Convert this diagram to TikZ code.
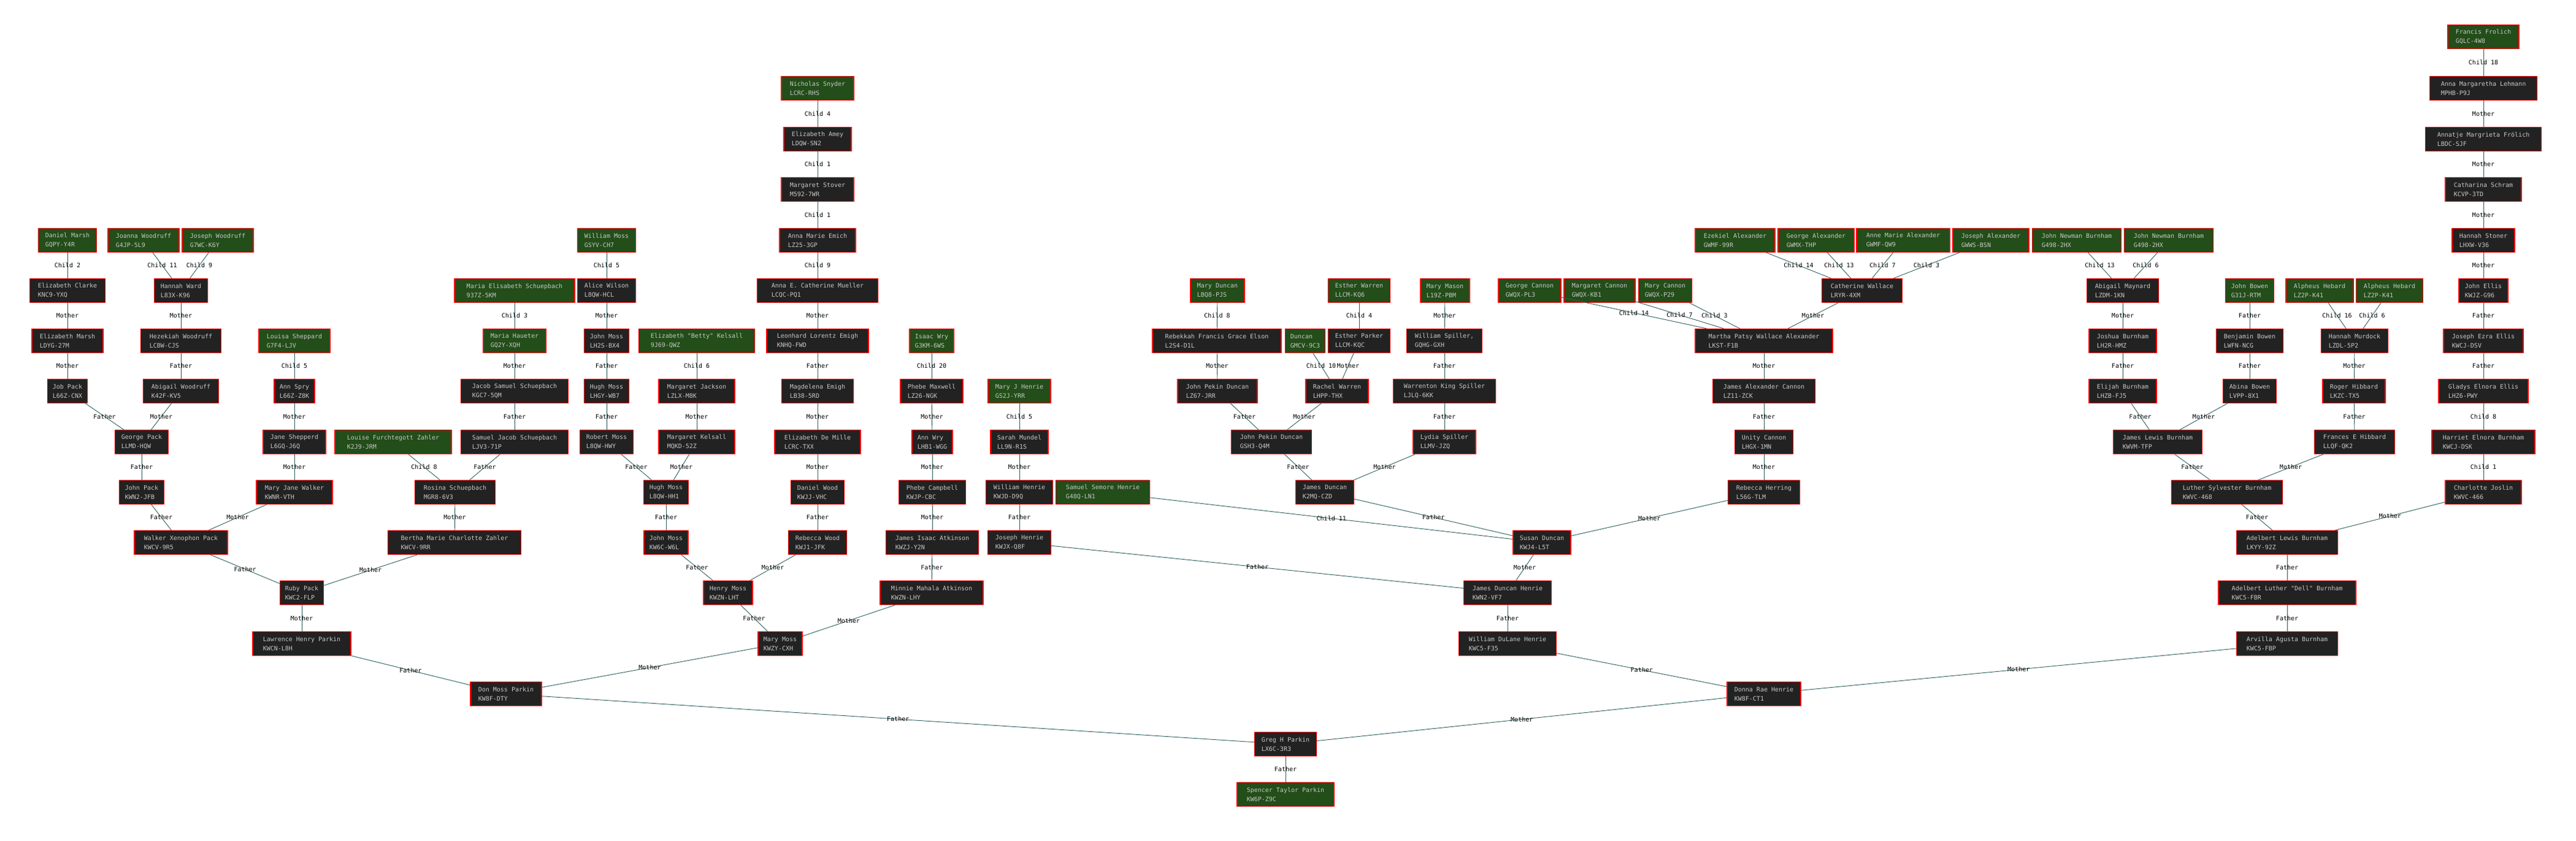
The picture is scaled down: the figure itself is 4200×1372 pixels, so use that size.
\documentclass[tikz,border=0pt]{standalone}
\usepackage{fontspec}
\setmonofont{DejaVu Sans Mono}
\usepackage{xcolor}
\usepackage{tikz}

\definecolor{boxgray}{HTML}{222222}
\definecolor{rootgreen}{HTML}{234D19}
\definecolor{namegray}{HTML}{C8C8C8}
\definecolor{linkteal}{HTML}{2F5F5F}

\begin{document}
\begin{tikzpicture}[
x=1pt, y=-1pt,
person/.style={draw=red, line width=1.2pt, fill=boxgray, text=namegray, align=left,
	minimum height=39pt, minimum width=#1, inner sep=0pt, font=\ttfamily\fontsize{10}{15}\selectfont},
rootbox/.style={person=#1, fill=rootgreen},
famlink/.style={draw=linkteal, line width=0.9pt},
reltag/.style={font=\ttfamily\fontsize{10}{12}\selectfont, text=black, inner sep=0pt}
]
\useasboundingbox (0,0) rectangle (4200,1372);

% generation rows, top to bottom
\node [rootbox=116] (frolich) at (4049,60) {Francis Frolich\\GQLC-4W8};

\node [rootbox=118] (snyder) at (1333,144) {Nicholas Snyder\\LCRC-RHS};
\node [person=175] (lehmann) at (4049,144) {Anna Margaretha Lehmann\\MPHB-P9J};

\node [person=110] (amey) at (1333,227) {Elizabeth Amey\\LDQW-SN2};
\node [person=189] (annatje) at (4049,227) {Annatje Margrieta Frölich\\LBDC-SJF};

\node [person=118] (stover) at (1333,309) {Margaret Stover\\M592-7WR};
\node [person=124] (schram) at (4049,309) {Catharina Schram\\KCVP-3TD};

\node [rootbox=95] (dmarsh) at (110,392) {Daniel Marsh\\GQPY-Y4R};
\node [rootbox=116] (joanna) at (234,392) {Joanna Woodruff\\G4JP-5L9};
\node [rootbox=116] (joseph) at (355,392) {Joseph Woodruff\\G7WC-K6Y};
\node [rootbox=95] (wmoss) at (989,392) {William Moss\\GSYV-CH7};
\node [person=124] (emich) at (1333,392) {Anna Marie Emich\\LZ25-3GP};
\node [rootbox=130] (ezekiel) at (2829,392) {Ezekiel Alexander\\GWMF-99R};
\node [rootbox=124] (galex) at (2961,392) {George Alexander\\GWMX-THP};
\node [rootbox=152] (amalex) at (3103,392) {Anne Marie Alexander\\GWMF-QW9};
\node [rootbox=124] (jalex) at (3246,392) {Joseph Alexander\\GWWS-BSN};
\node [rootbox=145] (jnburnA) at (3386,392) {John Newman Burnham\\G498-2HX};
\node [rootbox=145] (jnburnB) at (3536,392) {John Newman Burnham\\G498-2HX};
\node [person=102] (stoner) at (4049,392) {Hannah Stoner\\LHXW-V36};

\node [person=123] (eclarke) at (110,474) {Elizabeth Clarke\\KNC9-YXQ};
\node [person=87] (hward) at (295,474) {Hannah Ward\\L83X-K96};
\node [rootbox=196] (mesch) at (839,474) {Maria Elisabeth Schuepbach\\937Z-5KM};
\node [person=95] (awilson) at (989,474) {Alice Wilson\\L8QW-HCL};
\node [person=197] (mueller) at (1333,474) {Anna E. Catherine Mueller\\LCQC-PQ1};
\node [rootbox=88] (mduncan) at (1985,474) {Mary Duncan\\LBQ8-PJS};
\node [rootbox=101] (ewarren) at (2216,474) {Esther Warren\\LLCM-KQ6};
\node [rootbox=80] (mmason) at (2356,474) {Mary Mason\\L19Z-PBM};
\node [rootbox=102] (gcannon) at (2494,474) {George Cannon\\GWQX-PL3};
\node [rootbox=116] (mgcannon) at (2608,474) {Margaret Cannon\\GWQX-KB1};
\node [rootbox=87] (mycannon) at (2715,474) {Mary Cannon\\GWQX-P29};
\node [person=131] (cwallace) at (3036,474) {Catherine Wallace\\LRYR-4XM};
\node [person=117] (amaynard) at (3461,474) {Abigail Maynard\\LZDM-1KN};
\node [rootbox=79] (jbowen) at (3668,474) {John Bowen\\G31J-RTM};
\node [rootbox=110] (hebardA) at (3782,474) {Alpheus Hebard\\LZ2P-K41};
\node [rootbox=109] (hebardB) at (3896,474) {Alpheus Hebard\\LZ2P-K41};
\node [person=80] (jellis) at (4049,474) {John Ellis\\KWJZ-G96};

\node [person=116] (emarsh) at (110,556) {Elizabeth Marsh\\LDYG-27M};
\node [person=131] (hezekiah) at (295,556) {Hezekiah Woodruff\\LCBW-CJS};
\node [rootbox=116] (lsheppard) at (480,556) {Louisa Sheppard\\G7F4-LJV};
\node [rootbox=102] (haueter) at (839,556) {Maria Haueter\\GQ2Y-XQH};
\node [person=73] (jmossA) at (989,556) {John Moss\\LH2S-BX4};
\node [rootbox=189] (bkelsall) at (1136,556) {Elizabeth "Betty" Kelsall\\9J69-QWZ};
\node [person=166] (leonhard) at (1333,556) {Leonhard Lorentz Emigh\\KNHQ-FWD};
\node [rootbox=72] (iwry) at (1519,556) {Isaac Wry\\G3KM-6WS};
\node [person=210] (elson) at (1984,556) {Rebekkah Francis Grace Elson\\L2S4-D1L};
\node [rootbox=65] (duncan) at (2128,556) {Duncan\\GMCV-9C3};
\node [person=101] (eparker) at (2216,556) {Esther Parker\\LLCM-KQC};
\node [person=123] (wspiller) at (2355,556) {William Spiller,\\GQHG-GXH};
\node [person=224] (martha) at (2876,556) {Martha Patsy Wallace Alexander\\LKST-F1B};
\node [person=110] (joshua) at (3461,556) {Joshua Burnham\\LH2R-HMZ};
\node [person=109] (benbowen) at (3668,556) {Benjamin Bowen\\LWFN-NCG};
\node [person=109] (murdock) at (3839,556) {Hannah Murdock\\LZDL-5P2};
\node [person=130] (jezra) at (4049,556) {Joseph Ezra Ellis\\KWCJ-DSV};

\node [person=65] (jobpack) at (110,638) {Job Pack\\L66Z-CNX};
\node [person=123] (awoodruff) at (295,638) {Abigail Woodruff\\K42F-KV5};
\node [person=66] (aspry) at (480,638) {Ann Spry\\L66Z-Z8K};
\node [person=175] (jsschuep) at (839,638) {Jacob Samuel Schuepbach\\KGC7-5QM};
\node [person=73] (hmossA) at (989,638) {Hugh Moss\\LHGY-WB7};
\node [person=124] (mjackson) at (1136,638) {Margaret Jackson\\LZLX-M8K};
\node [person=117] (memigh) at (1333,638) {Magdelena Emigh\\LB38-5RD};
\node [person=102] (pmaxwell) at (1519,638) {Phebe Maxwell\\LZ26-NGK};
\node [rootbox=102] (mjhenrie) at (1662,638) {Mary J Henrie\\GS2J-YRR};
\node [person=130] (jpduncanA) at (1985,638) {John Pekin Duncan\\LZ67-JRR};
\node [person=102] (rwarren) at (2180,638) {Rachel Warren\\LHPP-THX};
\node [person=167] (wkspiller) at (2355,638) {Warrenton King Spiller\\LJLQ-6KK};
\node [person=167] (jacannon) at (2876,638) {James Alexander Cannon\\LZ11-ZCK};
\node [person=110] (elijah) at (3461,638) {Elijah Burnham\\LHZB-FJ5};
\node [person=87] (abowen) at (3668,638) {Abina Bowen\\LVPP-8X1};
\node [person=102] (rhibbard) at (3838,638) {Roger Hibbard\\LKZC-TX5};
\node [person=146] (gladys) at (4049,638) {Gladys Elnora Ellis\\LHZ6-PWY};

\node [person=87] (gpack) at (231,721) {George Pack\\LLMD-HQW};
\node [person=102] (jshepperd) at (480,721) {Jane Shepperd\\L6GQ-J6Q};
\node [rootbox=190] (lfzahler) at (641,721) {Louise Furchtegott Zahler\\K2J9-JRM};
\node [person=175] (sjschuep) at (839,721) {Samuel Jacob Schuepbach\\LJV3-71P};
\node [person=87] (rmoss) at (989,721) {Robert Moss\\L8QW-HWY};
\node [person=124] (mkelsall) at (1136,721) {Margaret Kelsall\\MQKD-52Z};
\node [person=140] (edemille) at (1333,721) {Elizabeth De Mille\\LCRC-TXX};
\node [person=66] (awry) at (1520,721) {Ann Wry\\LHB1-WGG};
\node [person=94] (smundel) at (1662,721) {Sarah Mundel\\LL9N-R1S};
\node [person=131] (jpduncanB) at (2073,721) {John Pekin Duncan\\GSH3-Q4M};
\node [person=102] (lspiller) at (2355,721) {Lydia Spiller\\LLMV-JZQ};
\node [person=95] (ucannon) at (2876,721) {Unity Cannon\\LHGX-1MN};
\node [person=145] (jlburnham) at (3518,721) {James Lewis Burnham\\KWVM-TFP};
\node [person=131] (fhibbard) at (3839,721) {Frances E Hibbard\\LLQF-QK2};
\node [person=168] (harriet) at (4049,721) {Harriet Elnora Burnham\\KWCJ-DSK};

\node [person=73] (johnpack) at (231,803) {John Pack\\KWN2-JFB};
\node [person=124] (mjwalker) at (480,803) {Mary Jane Walker\\KWNR-VTH};
\node [person=131] (rosina) at (742,803) {Rosina Schuepbach\\MGR8-6V3};
\node [person=73] (hmossB) at (1086,803) {Hugh Moss\\L8QW-HH1};
\node [person=87] (dwood) at (1333,803) {Daniel Wood\\KWJJ-VHC};
\node [person=109] (pcampbell) at (1520,803) {Phebe Campbell\\KWJP-CBC};
\node [person=109] (whenrie) at (1662,803) {William Henrie\\KWJD-D9Q};
\node [rootbox=153] (sshenrie) at (1798,803) {Samuel Semore Henrie\\G48Q-LN1};
\node [person=95] (jduncan) at (2160,803) {James Duncan\\K2MQ-CZD};
\node [person=117] (rherring) at (2876,803) {Rebecca Herring\\L56G-TLM};
\node [person=181] (luther) at (3631,803) {Luther Sylvester Burnham\\KWVC-468};
\node [person=124] (cjoslin) at (4049,803) {Charlotte Joslin\\KWVC-466};

\node [person=152] (wxpack) at (295,885) {Walker Xenophon Pack\\KWCV-9R5};
\node [person=217] (bertha) at (741,885) {Bertha Marie Charlotte Zahler\\KWCV-9RR};
\node [person=72] (jmossB) at (1086,885) {John Moss\\KW6C-W6L};
\node [person=95] (rwood) at (1333,885) {Rebecca Wood\\KWJ1-JFK};
\node [person=151] (jiatkinson) at (1520,885) {James Isaac Atkinson\\KWZJ-Y2N};
\node [person=103] (jhenrie) at (1662,885) {Joseph Henrie\\KWJX-Q8F};
\node [person=94] (sduncan) at (2514,885) {Susan Duncan\\KWJ4-L5T};
\node [person=165] (adlewis) at (3729,885) {Adelbert Lewis Burnham\\LKYY-92Z};

\node [person=71] (ruby) at (492,967) {Ruby Pack\\KWC2-FLP};
\node [person=80] (henry) at (1187,967) {Henry Moss\\KWZN-LHT};
\node [person=168] (minnie) at (1519,967) {Minnie Mahala Atkinson\\KWZN-LHY};
\node [person=143] (jdhenrie) at (2458,967) {James Duncan Henrie\\KWN2-VF7};
\node [person=224] (dell) at (3729,967) {Adelbert Luther "Dell" Burnham\\KWC5-FBR};

\node [person=160] (lhparkin) at (492,1050) {Lawrence Henry Parkin\\KWCN-L8H};
\node [person=72] (mmoss) at (1272,1050) {Mary Moss\\KWZY-CXH};
\node [person=159] (wdhenrie) at (2458,1050) {William DuLane Henrie\\KWC5-F35};
\node [person=165] (arvilla) at (3729,1050) {Arvilla Agusta Burnham\\KWC5-FBP};

\node [person=116] (dmparkin) at (825,1132) {Don Moss Parkin\\KW8F-DTY};
\node [person=120] (drhenrie) at (2876,1132) {Donna Rae Henrie\\KW8F-CT1};

\node [person=101] (ghparkin) at (2096,1214) {Greg H Parkin\\LX6C-3R3};

\node [rootbox=158] (stparkin) at (2096,1296) {Spencer Taylor Parkin\\KW6P-Z9C};

% Pack / Woodruff / Sheppard line
\draw [famlink] (dmarsh) -- node [reltag] {Child 2} (eclarke);
\draw [famlink] (joanna) -- node [reltag] {Child 11} (hward);
\draw [famlink] (joseph) -- node [reltag] {Child 9} (hward);
\draw [famlink] (eclarke) -- node [reltag] {Mother} (emarsh);
\draw [famlink] (hward) -- node [reltag] {Mother} (hezekiah);
\draw [famlink] (emarsh) -- node [reltag] {Mother} (jobpack);
\draw [famlink] (hezekiah) -- node [reltag] {Father} (awoodruff);
\draw [famlink] (lsheppard) -- node [reltag] {Child 5} (aspry);
\draw [famlink] (jobpack) -- node [reltag] {Father} (gpack);
\draw [famlink] (awoodruff) -- node [reltag] {Mother} (gpack);
\draw [famlink] (aspry) -- node [reltag] {Mother} (jshepperd);
\draw [famlink] (gpack) -- node [reltag] {Father} (johnpack);
\draw [famlink] (jshepperd) -- node [reltag] {Mother} (mjwalker);
\draw [famlink] (johnpack) -- node [reltag] {Father} (wxpack);
\draw [famlink] (mjwalker) -- node [reltag] {Mother} (wxpack);

% Schuepbach / Zahler
\draw [famlink] (mesch) -- node [reltag] {Child 3} (haueter);
\draw [famlink] (haueter) -- node [reltag] {Mother} (jsschuep);
\draw [famlink] (jsschuep) -- node [reltag] {Father} (sjschuep);
\draw [famlink] (lfzahler) -- node [reltag] {Child 8} (rosina);
\draw [famlink] (sjschuep) -- node [reltag] {Father} (rosina);
\draw [famlink] (rosina) -- node [reltag] {Mother} (bertha);
\draw [famlink] (wxpack) -- node [reltag] {Father} (ruby);
\draw [famlink] (bertha) -- node [reltag] {Mother} (ruby);
\draw [famlink] (ruby) -- node [reltag] {Mother} (lhparkin);
\draw [famlink] (lhparkin) -- node [reltag] {Father} (dmparkin);

% Moss / Kelsall / Wood / Atkinson
\draw [famlink] (wmoss) -- node [reltag] {Child 5} (awilson);
\draw [famlink] (awilson) -- node [reltag] {Mother} (jmossA);
\draw [famlink] (jmossA) -- node [reltag] {Father} (hmossA);
\draw [famlink] (hmossA) -- node [reltag] {Father} (rmoss);
\draw [famlink] (bkelsall) -- node [reltag] {Child 6} (mjackson);
\draw [famlink] (mjackson) -- node [reltag] {Mother} (mkelsall);
\draw [famlink] (rmoss) -- node [reltag] {Father} (hmossB);
\draw [famlink] (mkelsall) -- node [reltag] {Mother} (hmossB);
\draw [famlink] (hmossB) -- node [reltag] {Father} (jmossB);
\draw [famlink] (snyder) -- node [reltag] {Child 4} (amey);
\draw [famlink] (amey) -- node [reltag] {Child 1} (stover);
\draw [famlink] (stover) -- node [reltag] {Child 1} (emich);
\draw [famlink] (emich) -- node [reltag] {Child 9} (mueller);
\draw [famlink] (mueller) -- node [reltag] {Mother} (leonhard);
\draw [famlink] (leonhard) -- node [reltag] {Father} (memigh);
\draw [famlink] (memigh) -- node [reltag] {Mother} (edemille);
\draw [famlink] (edemille) -- node [reltag] {Mother} (dwood);
\draw [famlink] (dwood) -- node [reltag] {Father} (rwood);
\draw [famlink] (jmossB) -- node [reltag] {Father} (henry);
\draw [famlink] (rwood) -- node [reltag] {Mother} (henry);
\draw [famlink] (iwry) -- node [reltag] {Child 20} (pmaxwell);
\draw [famlink] (pmaxwell) -- node [reltag] {Mother} (awry);
\draw [famlink] (awry) -- node [reltag] {Mother} (pcampbell);
\draw [famlink] (pcampbell) -- node [reltag] {Mother} (jiatkinson);
\draw [famlink] (jiatkinson) -- node [reltag] {Father} (minnie);
\draw [famlink] (henry) -- node [reltag] {Father} (mmoss);
\draw [famlink] (minnie) -- node [reltag] {Mother} (mmoss);
\draw [famlink] (mmoss) -- node [reltag] {Mother} (dmparkin);

% Henrie / Duncan / Spiller
\draw [famlink] (mjhenrie) -- node [reltag] {Child 5} (smundel);
\draw [famlink] (smundel) -- node [reltag] {Mother} (whenrie);
\draw [famlink] (whenrie) -- node [reltag] {Father} (jhenrie);
\draw [famlink] (jhenrie) -- node [reltag] {Father} (jdhenrie);
\draw [famlink] (sshenrie) -- node [reltag] {Child 11} (sduncan);
\draw [famlink] (mduncan) -- node [reltag] {Child 8} (elson);
\draw [famlink] (elson) -- node [reltag] {Mother} (jpduncanA);
\draw [famlink] (ewarren) -- node [reltag] {Child 4} (eparker);
\draw [famlink] (duncan) -- node [reltag] {Child 10} (rwarren);
\draw [famlink] (eparker) -- node [reltag] {Mother} (rwarren);
\draw [famlink] (jpduncanA) -- node [reltag] {Father} (jpduncanB);
\draw [famlink] (rwarren) -- node [reltag] {Mother} (jpduncanB);
\draw [famlink] (mmason) -- node [reltag] {Mother} (wspiller);
\draw [famlink] (wspiller) -- node [reltag] {Father} (wkspiller);
\draw [famlink] (wkspiller) -- node [reltag] {Father} (lspiller);
\draw [famlink] (jpduncanB) -- node [reltag] {Father} (jduncan);
\draw [famlink] (lspiller) -- node [reltag] {Mother} (jduncan);
\draw [famlink] (jduncan) -- node [reltag] {Father} (sduncan);
\draw [famlink] (rherring) -- node [reltag] {Mother} (sduncan);
\draw [famlink] (sduncan) -- node [reltag] {Mother} (jdhenrie);
\draw [famlink] (jdhenrie) -- node [reltag] {Father} (wdhenrie);
\draw [famlink] (wdhenrie) -- node [reltag] {Father} (drhenrie);

% Cannon / Alexander
\draw [famlink] (ezekiel) -- node [reltag] {Child 14} (cwallace);
\draw [famlink] (galex) -- node [reltag] {Child 13} (cwallace);
\draw [famlink] (amalex) -- node [reltag] {Child 7} (cwallace);
\draw [famlink] (jalex) -- node [reltag] {Child 3} (cwallace);
\draw [famlink] (gcannon) -- node [reltag] {Child 14} (martha);
\draw [famlink] (mgcannon) -- node [reltag] {Child 7} (martha);
\draw [famlink] (mycannon) -- node [reltag] {Child 3} (martha);
\draw [famlink] (cwallace) -- node [reltag] {Mother} (martha);
\draw [famlink] (martha) -- node [reltag] {Mother} (jacannon);
\draw [famlink] (jacannon) -- node [reltag] {Father} (ucannon);
\draw [famlink] (ucannon) -- node [reltag] {Mother} (rherring);

% Burnham / Bowen / Hibbard / Ellis
\draw [famlink] (jnburnA) -- node [reltag] {Child 13} (amaynard);
\draw [famlink] (jnburnB) -- node [reltag] {Child 6} (amaynard);
\draw [famlink] (amaynard) -- node [reltag] {Mother} (joshua);
\draw [famlink] (joshua) -- node [reltag] {Father} (elijah);
\draw [famlink] (jbowen) -- node [reltag] {Father} (benbowen);
\draw [famlink] (benbowen) -- node [reltag] {Father} (abowen);
\draw [famlink] (elijah) -- node [reltag] {Father} (jlburnham);
\draw [famlink] (abowen) -- node [reltag] {Mother} (jlburnham);
\draw [famlink] (hebardA) -- node [reltag] {Child 16} (murdock);
\draw [famlink] (hebardB) -- node [reltag] {Child 6} (murdock);
\draw [famlink] (murdock) -- node [reltag] {Mother} (rhibbard);
\draw [famlink] (rhibbard) -- node [reltag] {Father} (fhibbard);
\draw [famlink] (jlburnham) -- node [reltag] {Father} (luther);
\draw [famlink] (fhibbard) -- node [reltag] {Mother} (luther);
\draw [famlink] (frolich) -- node [reltag] {Child 18} (lehmann);
\draw [famlink] (lehmann) -- node [reltag] {Mother} (annatje);
\draw [famlink] (annatje) -- node [reltag] {Mother} (schram);
\draw [famlink] (schram) -- node [reltag] {Mother} (stoner);
\draw [famlink] (stoner) -- node [reltag] {Mother} (jellis);
\draw [famlink] (jellis) -- node [reltag] {Father} (jezra);
\draw [famlink] (jezra) -- node [reltag] {Father} (gladys);
\draw [famlink] (gladys) -- node [reltag] {Child 8} (harriet);
\draw [famlink] (harriet) -- node [reltag] {Child 1} (cjoslin);
\draw [famlink] (luther) -- node [reltag] {Father} (adlewis);
\draw [famlink] (cjoslin) -- node [reltag] {Mother} (adlewis);
\draw [famlink] (adlewis) -- node [reltag] {Father} (dell);
\draw [famlink] (dell) -- node [reltag] {Father} (arvilla);
\draw [famlink] (arvilla) -- node [reltag] {Mother} (drhenrie);

% last generations
\draw [famlink] (dmparkin) -- node [reltag] {Father} (ghparkin);
\draw [famlink] (drhenrie) -- node [reltag] {Mother} (ghparkin);
\draw [famlink] (ghparkin) -- node [reltag] {Father} (stparkin);
\end{tikzpicture}
\end{document}
